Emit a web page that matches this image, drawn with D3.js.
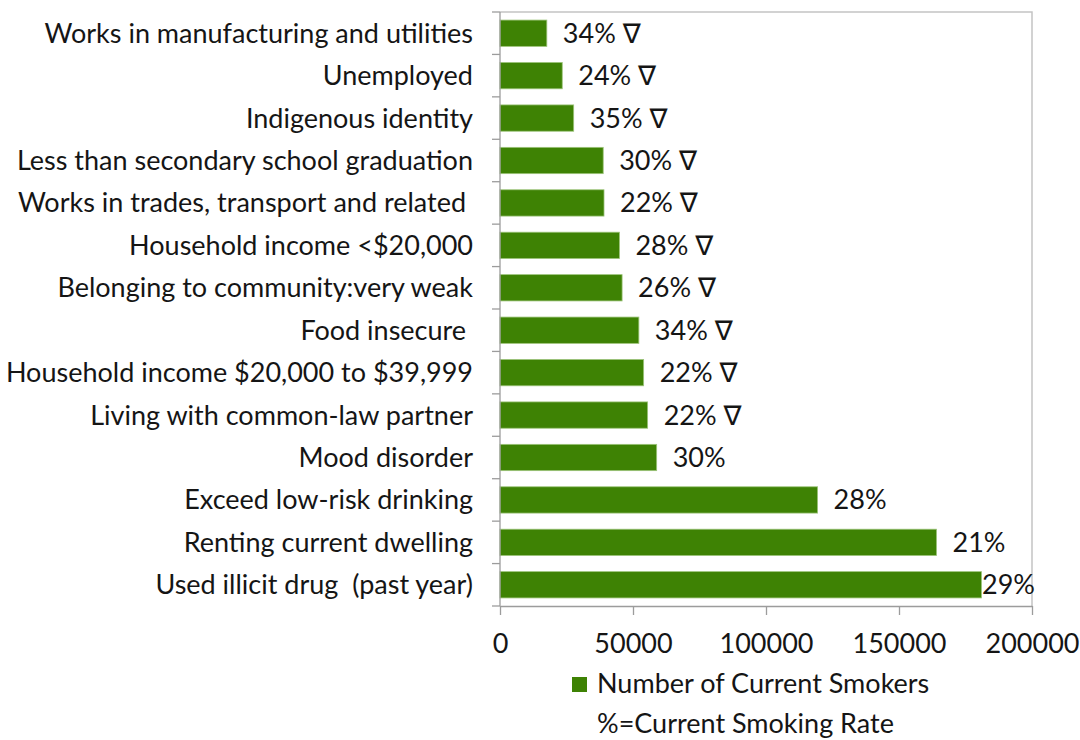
<!DOCTYPE html>
<html>
<head>
<meta charset="utf-8">
<script src="https://cdn.jsdelivr.net/npm/d3@7"></script>
<style>
  html, body { margin: 0; padding: 0; background: #fff; }
  svg { display: block; }
  text { font-family: Lato, "Open Sans", "DejaVu Sans", sans-serif; fill: #151515; }
</style>
</head>
<body>
<svg id="chart" width="1080" height="740"></svg>
<script>
// Risk groups, top to bottom
const categories = [
  "Works in manufacturing and utilities",
  "Unemployed",
  "Indigenous identity",
  "Less than secondary school graduation",
  "Works in trades, transport and related ",
  "Household income <$20,000",
  "Belonging to community:very weak",
  "Food insecure ",
  "Household income $20,000 to $39,999",
  "Living with common-law partner",
  "Mood disorder",
  "Exceed low-risk drinking",
  "Renting current dwelling",
  "Used illicit drug  (past year)"
];

// Number of current smokers in each group
const smokers = [17600, 23400, 27700, 38800, 39100, 44900, 45900, 52200, 54000, 55500, 58900, 119400, 164100, 181000];

// Current smoking rate (%) in each group
const smokingRate = [34, 24, 35, 30, 22, 28, 26, 34, 22, 22, 30, 28, 21, 29];

// Groups whose rate is flagged with the ∇ marker
const flagged = [true, true, true, true, true, true, true, true, true, true, false, false, false, false];

const xTicks = [0, 50000, 100000, 150000, 200000];

const legendSeries = "Number of Current Smokers";
const legendNote = "%=Current Smoking Rate";

const barColor = "#3e8204";
const fontSize = 27;

const svg = d3.select("#chart");

const plot = { left: 500, right: 1032, top: 12, bottom: 606 };

const x = d3.scaleLinear().domain([0, 200000]).range([plot.left, plot.right]);
const y = d3.scaleBand().domain(categories).range([plot.top, plot.bottom])
  .paddingInner(0.38).paddingOuter(0.19);

// Plot frame (top and right edges)
svg.append("path")
  .attr("d", `M${plot.left},${plot.top}H${plot.right}V${plot.bottom}`)
  .attr("fill", "none").attr("stroke", "#c4c4c4").attr("stroke-width", 1.5);

// Bars
svg.append("g").selectAll("rect")
  .data(categories)
  .join("rect")
  .attr("x", x(0))
  .attr("y", d => y(d))
  .attr("width", (d, i) => x(smokers[i]) - x(0))
  .attr("height", y.bandwidth())
  .attr("fill", barColor)
  .attr("stroke", "#9cc47a").attr("stroke-width", 0.8);

// Category axis: line with ticks on band boundaries
const yAxis = svg.append("g").attr("stroke", "#9c9c9c").attr("stroke-width", 1.3);
yAxis.append("line")
  .attr("x1", plot.left).attr("x2", plot.left)
  .attr("y1", plot.top).attr("y2", plot.bottom);
yAxis.selectAll("line.tick")
  .data(d3.range(categories.length + 1))
  .join("line").attr("class", "tick")
  .attr("x1", plot.left - 8).attr("x2", plot.left)
  .attr("y1", i => plot.top + i * y.step())
  .attr("y2", i => plot.top + i * y.step());

// Category labels
svg.append("g").selectAll("text")
  .data(categories)
  .join("text")
  .attr("x", plot.left - 27)
  .attr("y", d => y(d) + y.bandwidth() / 2)
  .attr("dy", "0.35em")
  .attr("text-anchor", "end")
  .attr("font-size", fontSize)
  .style("white-space", "pre")
  .text(d => d);

// Value axis
const xAxis = svg.append("g")
  .attr("transform", `translate(0,${plot.bottom})`)
  .call(d3.axisBottom(x).tickValues(xTicks).tickFormat(d3.format("d")).tickSize(9).tickSizeOuter(0));
xAxis.select(".domain").attr("stroke", "#9c9c9c").attr("stroke-width", 1.3);
xAxis.selectAll(".tick line").attr("stroke", "#9c9c9c").attr("stroke-width", 1.3);
xAxis.selectAll(".tick text")
  .attr("y", 47).attr("dy", null)
  .attr("font-size", fontSize)
  .attr("font-family", null)
  .style("fill", "#151515");
xAxis.attr("font-family", null).attr("font-size", null);

// Rate labels beside each bar, kept inside the chart on the right
const labels = svg.append("g").selectAll("text")
  .data(categories)
  .join("text")
  .attr("y", d => y(d) + y.bandwidth() / 2)
  .attr("dy", "0.35em")
  .attr("font-size", fontSize)
  .text((d, i) => smokingRate[i] + "%" + (flagged[i] ? " \u2207" : ""));
labels.attr("x", function (d, i) {
  const w = this.getComputedTextLength();
  return Math.min(x(smokers[i]) + 16, plot.right + 3 - w);
});

// Legend
svg.append("rect")
  .attr("x", 572).attr("y", 677).attr("width", 15).attr("height", 15)
  .attr("fill", barColor);
svg.append("text")
  .attr("x", 597).attr("y", 693)
  .attr("font-size", fontSize)
  .text(legendSeries);
svg.append("text")
  .attr("x", 597).attr("y", 733)
  .attr("font-size", fontSize)
  .text(legendNote);
</script>
</body>
</html>
